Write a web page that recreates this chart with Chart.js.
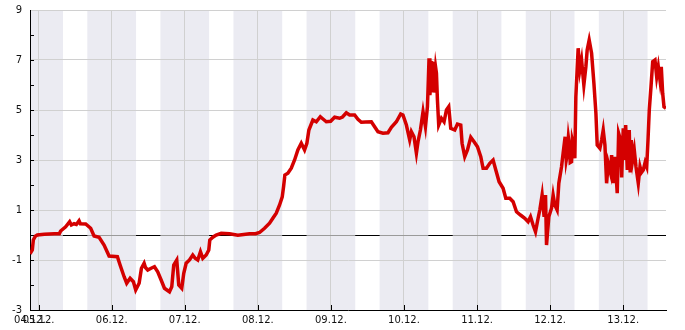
<!DOCTYPE html>
<html>
<head>
<meta charset="utf-8">
<script src="https://cdn.jsdelivr.net/npm/chart.js@4/dist/chart.umd.min.js"></script>
<style>
  html, body { margin: 0; padding: 0; background: #fff; }
</style>
</head>
<body>
<canvas id="grafico" width="685" height="330"></canvas>
<script>
// Zeit in Stunden ab 05.12. 00:00
const zeiten = [
  -2.83, -2.07, -1.74, -1.08, -0.43, 1.87, 5.16, 6.8, 7.23, 8.88, 10.19, 10.75, 11.64, 12.4, 13.28, 13.7, 15.45,
  17.1, 18.21, 19.86, 21.5, 23.15, 25.87, 26.76, 28.08, 28.93, 30.05, 31.13, 31.89, 33.01, 33.77, 34.65,
  35.1, 35.84, 36.95, 38.04, 39.12, 40.24, 41.33, 42.97, 43.73, 44.38, 45.37, 46.03, 47.01, 47.67, 48.46,
  49.55, 50.63, 51.42, 52.27, 53.16, 53.92, 55.04, 55.89, 56.22, 57.21, 58.32, 59.97, 62.7, 65.43, 69.27,
  71.25, 72.56, 74.21, 75.85, 76.93, 78.05, 79.14, 80.02, 80.45, 80.88, 81.87, 82.98, 84.07, 85.15, 86.27,
  87.35, 88.11, 88.77, 90.08, 91.2, 92.52, 93.3, 94.49, 95.9, 97.22, 98.86, 99.8, 101.06, 102.15, 103.79,
  104.88, 106.0, 107.4, 109.28, 110.36, 111.45, 113.1, 114.74, 115.86, 117.5, 118.92, 119.67, 120.79, 121.88,
  122.44, 123.29, 124.08, 124.61, 125.4, 126.26, 127.05, 127.71, 128.0, 128.23, 128.5, 128.79, 129.1, 129.54,
  129.8, 130.1, 130.4, 130.66, 130.99, 131.41, 132.3, 133.16, 133.95, 134.7, 135.36, 136.68, 137.56, 138.65,
  139.08, 139.96, 140.85, 141.94, 143.02, 144.14, 145.22, 145.98, 147.1, 148.18, 149.27, 150.16, 151.24,
  152.55, 153.44, 154.75, 155.84, 156.96, 158.27, 159.68, 160.77, 161.56, 162.41, 163.2, 164.05, 164.61,
  165.37, 166.03, 166.49, 166.82, 167.57, 168.46, 168.99, 169.55, 170.3, 170.86, 171.75, 172.27, 172.93,
  173.3, 173.59, 174.0, 174.25, 174.6, 175.04, 175.3, 175.56, 176.12, 176.45, 177.21, 177.77, 178.33, 179.08,
  179.74, 180.17, 180.83, 181.62, 182.38, 183.04, 183.47, 184.35, 184.91, 185.44, 186.0, 186.55, 187.08,
  187.87, 188.2, 188.73, 189.29, 190.04, 190.5, 191.16, 191.5, 192.02, 192.4, 192.81, 193.34, 193.99,
  194.3, 194.65, 195.11, 195.64, 196.2, 196.96, 197.52, 198.0, 198.6, 199.2, 199.72, 200.15, 200.57,
  201.13, 201.69, 202.44, 203.0, 203.53, 204.08, 204.51, 204.97, 205.4, 206.06
];
const werte = [
  -0.75, -0.6, -0.2, -0.05, 0.0, 0.03, 0.05, 0.05, 0.16, 0.33, 0.53, 0.4, 0.45, 0.42, 0.57, 0.45, 0.44,
  0.27, -0.04, -0.09, -0.4, -0.84, -0.87, -1.2, -1.67, -1.93, -1.73, -1.87, -2.2, -1.93, -1.33, -1.13,
  -1.3, -1.4, -1.33, -1.27, -1.47, -1.8, -2.13, -2.27, -2.07, -1.2, -1.0, -2.0, -2.13, -1.53, -1.13,
  -1.0, -0.8, -0.93, -1.0, -0.67, -0.93, -0.8, -0.6, -0.2, -0.09, 0.0, 0.07, 0.05, -0.01, 0.05,
  0.05, 0.1, 0.27, 0.47, 0.67, 0.87, 1.2, 1.53, 1.93, 2.4, 2.47, 2.67, 3.0, 3.4, 3.67,
  3.4, 3.67, 4.2, 4.6, 4.53, 4.73, 4.65, 4.53, 4.55, 4.71, 4.67, 4.72, 4.89, 4.8, 4.8,
  4.63, 4.51, 4.52, 4.53, 4.33, 4.13, 4.07, 4.09, 4.31, 4.53, 4.84, 4.8, 4.4, 3.8,
  4.13, 3.93, 3.27, 3.73, 4.2, 4.93, 4.33, 5.13, 6.2, 7.07, 5.6, 5.93, 6.9, 6.87,
  5.7, 6.2, 6.7, 6.47, 5.4, 4.4, 4.67, 4.53, 5.0, 5.13, 4.27, 4.2, 4.44, 4.4,
  3.67, 3.13, 3.4, 3.91, 3.73, 3.53, 3.13, 2.67, 2.67, 2.87, 3.0, 2.6, 2.13,
  1.87, 1.47, 1.47, 1.33, 0.93, 0.8, 0.67, 0.53, 0.73, 0.4, 0.13, 0.67, 1.0,
  1.6, 0.73, 1.6, -0.4, 0.73, 1.07, 1.6, 1.2, 1.0, 2.07, 2.73, 3.27, 3.93,
  3.0, 3.2, 3.9, 3.67, 2.9, 2.93, 3.8, 3.67, 3.07, 5.53, 7.47, 6.6, 7.0, 6.0,
  6.73, 7.4, 7.8, 7.27, 6.07, 4.87, 3.6, 3.47, 3.8, 4.2, 3.6, 2.07, 2.87,
  2.47, 3.2, 2.07, 3.13, 1.67, 4.07, 3.8, 2.3, 4.27, 3.0, 4.4, 2.6, 4.2,
  2.5, 3.8, 3.0, 3.4, 2.73, 2.07, 2.73, 2.5, 2.6, 2.9, 2.73, 3.8, 5.0,
  5.93, 6.93, 7.0, 6.33, 6.73, 6.2, 6.73, 5.67, 5.13, 5.07
];

// Tagesachse
const tickZeiten = [-2.83, 0, 24, 48, 72, 96, 120, 144, 168, 192];
const tickLabels = ['04.12.', '05.12.', '06.12.', '07.12.', '08.12.', '09.12.', '10.12.', '11.12.', '12.12.', '13.12.'];
const yTicks = [-3, -1, 1, 3, 5, 7, 9];

// Nachtbereiche 16:00 - 08:00
const nachtStart = [-8, 16, 40, 64, 88, 112, 136, 160, 184];
const nachtEnde = [8, 32, 56, 80, 104, 128, 152, 176, 200];

const hintergrund = {
  id: 'hintergrund',
  beforeDraw(chart) {
    const { ctx, chartArea, scales } = chart;
    ctx.save();
    ctx.beginPath();
    ctx.rect(chartArea.left, chartArea.top, chartArea.right - chartArea.left, chartArea.bottom - chartArea.top);
    ctx.clip();
    ctx.fillStyle = '#ebebf2';
    nachtStart.forEach((s, i) => {
      const x1 = scales.x.getPixelForValue(s);
      const x2 = scales.x.getPixelForValue(nachtEnde[i]);
      ctx.fillRect(x1, chartArea.top, x2 - x1, chartArea.bottom - chartArea.top);
    });
    ctx.restore();
  },
  beforeDatasetsDraw(chart) {
    const { ctx, chartArea, scales } = chart;
    const y0 = Math.round(scales.y.getPixelForValue(0)) + 0.5;
    ctx.save();
    ctx.beginPath();
    ctx.rect(chartArea.left, chartArea.top, chartArea.right - chartArea.left, chartArea.bottom - chartArea.top);
    ctx.clip();
    // Nulllinie
    ctx.lineWidth = 1;
    ctx.strokeStyle = '#000';
    ctx.beginPath();
    ctx.moveTo(chartArea.left, y0);
    ctx.lineTo(chartArea.right, y0);
    ctx.stroke();
    ctx.strokeStyle = '#9a9a9a';
    nachtStart.forEach((s, i) => {
      ctx.beginPath();
      ctx.moveTo(scales.x.getPixelForValue(s), y0);
      ctx.lineTo(scales.x.getPixelForValue(nachtEnde[i]), y0);
      ctx.stroke();
    });
    ctx.restore();

    // kleine Striche nach innen
    ctx.save();
    ctx.strokeStyle = '#000';
    ctx.lineWidth = 1;
    tickZeiten.slice(1).forEach(t => {
      const x = Math.round(scales.x.getPixelForValue(t)) + 0.5;
      ctx.beginPath();
      ctx.moveTo(x, chartArea.bottom);
      ctx.lineTo(x, chartArea.bottom - 5);
      ctx.stroke();
    });
    for (let v = -2; v <= 8; v++) {
      const y = Math.round(scales.y.getPixelForValue(v)) + 0.5;
      ctx.beginPath();
      ctx.moveTo(chartArea.left, y);
      ctx.lineTo(chartArea.left + 4, y);
      ctx.stroke();
    }
    ctx.restore();
  }
};

const ctx = document.getElementById('grafico').getContext('2d');

new Chart(ctx, {
  type: 'line',
  data: {
    datasets: [{
      data: zeiten.map((t, i) => ({ x: t, y: werte[i] })),
      borderColor: '#d40000',
      borderWidth: 3.5,
      pointRadius: 0,
      tension: 0,
      fill: false,
    }],
  },
  options: {
    responsive: false,
    animation: false,
    devicePixelRatio: 1,
    layout: { padding: { left: 0, right: 19, top: 10, bottom: 0 } },
    plugins: {
      legend: { display: false },
      tooltip: { enabled: false },
    },
    scales: {
      x: {
        type: 'linear',
        min: tickZeiten[0],
        max: 206.06,
        afterBuildTicks: scale => {
          scale.ticks = tickZeiten.map(v => ({ value: v }));
        },
        afterFit: scale => {
          scale.height = 20;
          scale.paddingLeft = 0;
          scale.paddingRight = 0;
        },
        grid: {
          color: '#d0d0d0',
          drawTicks: false,
        },
        border: { color: '#000', width: 1 },
        ticks: {
          autoSkip: false,
          maxRotation: 0,
          padding: 4,
          color: '#111',
          font: { family: 'DejaVu Sans', size: 10 },
          callback: (value, index) => tickLabels[index],
        },
      },
      y: {
        min: -3,
        max: 9,
        afterBuildTicks: scale => {
          scale.ticks = yTicks.map(v => ({ value: v }));
        },
        afterFit: scale => {
          scale.width = 30;
          scale.paddingTop = 0;
          scale.paddingBottom = 0;
        },
        grid: {
          color: '#d0d0d0',
          drawTicks: false,
        },
        border: { color: '#000', width: 1 },
        ticks: {
          padding: 8,
          color: '#111',
          font: { family: 'DejaVu Sans', size: 10 },
        },
      },
    },
  },
  plugins: [hintergrund],
});
</script>
</body>
</html>
